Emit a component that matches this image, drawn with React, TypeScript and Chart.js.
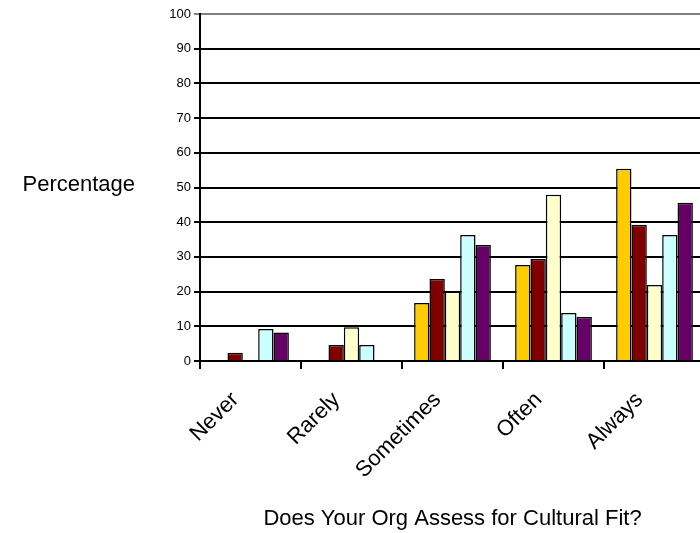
import React, { useEffect, useRef } from "react";
import { Chart, registerables } from "chart.js";

Chart.register(...registerables);

const categories = ["Never", "Rarely", "Sometimes", "Often", "Always"];
const seriesA = [0, 0, 16.7, 27.7, 55.4];
const seriesB = [2.4, 4.6, 23.6, 29.4, 39.3];
const seriesC = [0, 9.7, 20, 47.9, 21.9];
const seriesD = [9.2, 4.6, 36.3, 13.8, 36.3];
const seriesE = [8.2, 0, 33.4, 12.7, 45.6];
const seriesColors = ["#FFCC00", "#800000", "#FFFFCC", "#CCFFFF", "#660066"];
const yTitle = "Percentage";
const xTitle = "Does Your Org Assess for Cultural Fit?";

const FONT = "'Liberation Sans', Arial, sans-serif";

const yTitlePlugin = {
  id: "yTitleHorizontal",
  afterDraw(chart: any) {
    const ctx = chart.ctx;
    const area = chart.chartArea;
    ctx.save();
    ctx.font = `22px ${FONT}`;
    ctx.fillStyle = "#000";
    ctx.textAlign = "right";
    ctx.textBaseline = "middle";
    ctx.fillText(yTitle, 135, (area.top + area.bottom) / 2 - 3);
    ctx.restore();
  },
};

export default function App() {
  const ref = useRef<HTMLCanvasElement | null>(null);
  useEffect(() => {
    if (!ref.current) return;
    const all = [seriesA, seriesB, seriesC, seriesD, seriesE];
    const chart = new Chart(ref.current, {
      type: "bar",
      data: {
        labels: categories,
        datasets: all.map((d, i) => ({
          label: "S" + (i + 1),
          data: d,
          backgroundColor: seriesColors[i],
          borderColor: "#000",
          borderWidth: 1.5,
          categoryPercentage: 0.76,
          barPercentage: 1,
        })),
      },
      options: {
        responsive: false,
        animation: false,
        devicePixelRatio: 1,
        layout: { padding: { top: 14, right: 15, left: 0, bottom: 0 } },
        plugins: { legend: { display: false }, tooltip: { enabled: false } },
        scales: {
          x: {
            offset: true,
            grid: {
              offset: true,
              drawOnChartArea: false,
              tickLength: 8,
              color: "#000",
              lineWidth: 2,
            },
            border: { color: "#000", width: 2 },
            ticks: {
              font: { family: FONT, size: 22 },
              color: "#000",
              minRotation: 45,
              maxRotation: 45,
              autoSkip: false,
              padding: 18,
              labelOffset: -15,
            },
            title: {
              display: true,
              text: xTitle,
              font: { family: FONT, size: 22 },
              color: "#000",
              padding: { top: 0, bottom: 1 },
            },
            afterFit(scale: any) {
              scale.height = 172;
            },
          },
          y: {
            min: 0,
            max: 100,
            ticks: {
              stepSize: 10,
              font: { family: FONT, size: 13 },
              color: "#000",
              padding: 3,
            },
            grid: {
              color: (c: any) => (c.tick && c.tick.value === 100 ? "#808080" : "#000"),
              lineWidth: 2,
              tickLength: 6,
            },
            border: { color: "#000", width: 2 },
            afterFit(scale: any) {
              scale.width = 200;
            },
          },
        },
      },
      plugins: [yTitlePlugin],
    });
    return () => chart.destroy();
  }, []);
  return (
    <div
      style={{
        position: "fixed",
        left: 0,
        top: 0,
        width: 700,
        height: 533,
        overflow: "hidden",
        background: "#fff",
      }}
    >
      <canvas ref={ref} width={720} height={533} style={{ width: 720, height: 533, display: "block" }} />
    </div>
  );
}
